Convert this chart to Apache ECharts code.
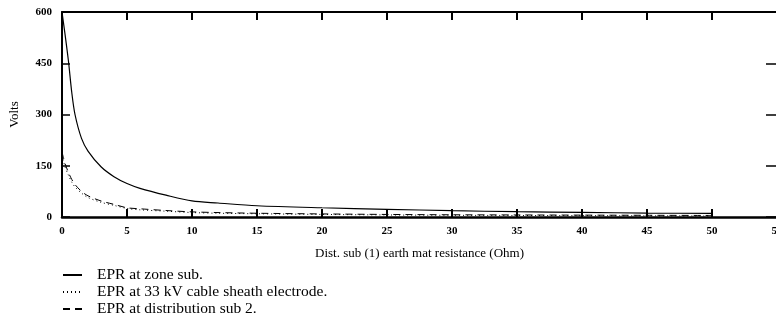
<!DOCTYPE html>
<html>
<head>
<meta charset="utf-8">
<script src="https://cdn.jsdelivr.net/npm/echarts@6/dist/echarts.min.js"></script>
<style>
  html, body { margin: 0; padding: 0; background: #fff; }
  #chart { width: 776px; height: 321px; }
</style>
</head>
<body>
<div id="chart"></div>
<script>
// Earth mat resistance of distribution sub (1), in ohms
const resistance = [0, 0.25, 0.5, 0.75, 1, 1.5, 2, 3, 4, 5, 6, 8, 10, 12, 15, 20, 25, 30, 35, 40, 45, 50];

// Earth potential rise, volts
const eprZoneSub = [600, 530, 455, 365, 300, 230, 193, 147, 118, 98, 84, 64, 47, 41, 33, 27, 22.5, 18.5, 15.5, 13.5, 11.5, 10.5];
const eprSheathElectrode = [180, 145, 122, 102, 88, 70, 57, 43, 34, 25, 21, 17, 13, 11, 9.5, 7.5, 6, 5, 4.5, 4, 3.5, 3];
const eprDistSub2 = [190, 155, 130, 110, 95, 75, 62, 47, 37, 27, 24, 19, 15, 13, 11, 9, 7.5, 6.5, 6, 5.5, 5, 4.5];

const seriesNames = [
  'EPR at zone sub.',
  'EPR at 33 kV cable sheath electrode.',
  'EPR at distribution sub 2.'
];

const pair = (ys) => resistance.map((x, i) => [x, ys[i]]);

const serif = '"Liberation Serif", "DejaVu Serif", serif';
const tickLabel = { fontFamily: serif, fontSize: 11, fontWeight: 'bold', color: '#000' };

const chart = echarts.init(document.getElementById('chart'), null, { renderer: 'canvas' });

chart.setOption({
  animation: false,
  backgroundColor: '#fff',
  grid: { left: 62, right: -1, top: 12, bottom: 104, containLabel: false, outerBoundsMode: 'none' },
  legend: {
    orient: 'vertical',
    left: 57,
    top: 262,
    height: 120,
    itemWidth: 19,
    itemHeight: 10,
    itemGap: 1,
    itemStyle: { opacity: 0 },
    textStyle: { fontFamily: serif, fontSize: 15.5, color: '#000', padding: [0, 0, 0, 10] },
    data: seriesNames
  },
  xAxis: [
    {
      type: 'value', min: 0, max: 55, interval: 5,
      name: 'Dist. sub (1) earth mat resistance (Ohm)',
      nameLocation: 'middle', nameGap: 30,
      nameTextStyle: { fontFamily: serif, fontSize: 13, color: '#000' },
      axisLine: { show: true, onZero: false, lineStyle: { color: '#000', width: 2.5 } },
      axisTick: { show: true, inside: true, length: 8, lineStyle: { color: '#000', width: 2 } },
      axisLabel: Object.assign({ margin: 9 }, tickLabel),
      splitLine: { show: false }
    },
    {
      type: 'value', min: 0, max: 55, interval: 5, position: 'top',
      axisLine: { show: true, onZero: false, lineStyle: { color: '#000', width: 2 } },
      axisTick: { show: true, inside: true, length: 8, lineStyle: { color: '#000', width: 2 } },
      axisLabel: { show: false },
      splitLine: { show: false }
    }
  ],
  yAxis: [
    {
      type: 'value', min: 0, max: 600, interval: 150,
      name: 'Volts', nameLocation: 'middle', nameGap: 41, nameRotate: 90,
      nameTextStyle: { fontFamily: serif, fontSize: 13, color: '#000' },
      axisLine: { show: true, onZero: false, lineStyle: { color: '#000', width: 2 } },
      axisTick: { show: true, inside: true, length: 8, lineStyle: { color: '#000', width: 1.5 } },
      axisLabel: Object.assign({ margin: 10 }, tickLabel),
      splitLine: { show: false }
    },
    {
      type: 'value', min: 0, max: 600, interval: 150, position: 'right',
      axisLine: { show: true, onZero: false, lineStyle: { color: '#000', width: 2 } },
      axisTick: { show: true, inside: true, length: 11, lineStyle: { color: '#000', width: 1.5 } },
      axisLabel: { show: false },
      splitLine: { show: false }
    }
  ],
  series: [
    {
      name: seriesNames[0], type: 'line', data: pair(eprZoneSub),
      smooth: 0.3, symbol: 'none',
      lineStyle: { color: '#000', width: 1.2, type: 'solid' },
      itemStyle: { color: '#000' }
    },
    {
      name: seriesNames[1], type: 'line', data: pair(eprSheathElectrode),
      smooth: 0.3, symbol: 'none',
      lineStyle: { color: '#000', width: 1, type: [1, 3] },
      itemStyle: { color: '#000' }
    },
    {
      name: seriesNames[2], type: 'line', data: pair(eprDistSub2),
      smooth: 0.3, symbol: 'none',
      lineStyle: { color: '#000', width: 1, type: [7, 5] },
      itemStyle: { color: '#000' }
    }
  ]
});
</script>
</body>
</html>
